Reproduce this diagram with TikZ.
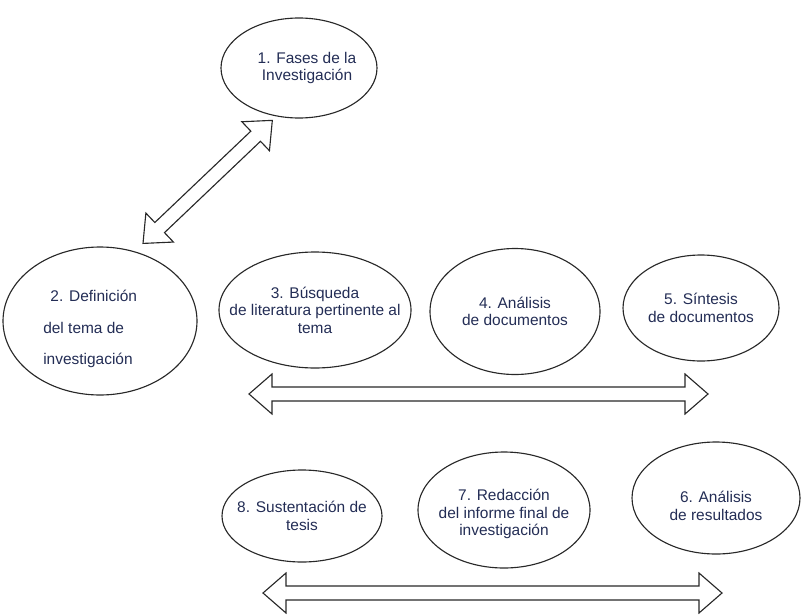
\documentclass[tikz,border=0pt]{standalone}
\usepackage{fontspec}
\setmainfont{Liberation Sans}
\definecolor{Navy}{RGB}{35, 45, 85}
\definecolor{Ink}{RGB}{40, 40, 40}
\usetikzlibrary{shapes.geometric, calc}

% flecha doble hueca entre dos puntos
\newcommand{\hollowarrow}[2]{%
  \coordinate (#1-b) at ($(#1)!0.575cm!(#2)$);
  \coordinate (#2-b) at ($(#2)!0.575cm!(#1)$);
  \draw[arrowline] (#1)
    -- ($(#1-b)!0.5cm!90:(#2)$) -- ($(#1-b)!0.175cm!90:(#2)$)
    -- ($(#2-b)!0.175cm!-90:(#1)$) -- ($(#2-b)!0.5cm!-90:(#1)$)
    -- (#2)
    -- ($(#2-b)!0.5cm!90:(#1)$) -- ($(#2-b)!0.175cm!90:(#1)$)
    -- ($(#1-b)!0.175cm!-90:(#2)$) -- ($(#1-b)!0.5cm!-90:(#2)$)
    -- cycle;}

\begin{document}
\begin{tikzpicture}[x=0.25cm, y=0.25cm,
    phase/.style={ellipse, draw=Ink, line width=0.8pt, inner sep=0pt},
    phasetxt/.style={font=\fontsize{11}{12.5}\selectfont, text=Navy, align=center},
    arrowline/.style={draw=Ink, line width=0.8pt, line join=miter}
]
\useasboundingbox (0,0) rectangle (80.3,61.5);
% Fases
\node[phase, minimum width=3.9cm, minimum height=2.5cm,
    label={[phasetxt, xshift=0.2cm]center:{1. Fases de la\\Investigación}}] (fases) at (29.9,54.7) {};
\node[phase, minimum width=4.85cm, minimum height=3.7cm,
    label={[phasetxt, align=left, yshift=-0.2cm]center:{\hspace*{0.18cm}2. Definición\\[10pt]del tema de\\[10pt]investigación\hspace*{0.6cm}}}] (def) at (10.0,29.4) {};
\node[phase, minimum width=4.8cm, minimum height=2.9cm,
    label={[phasetxt]center:{3. Búsqueda\\de literatura pertinente al\\tema}}] (busq) at (31.5,30.5) {};
\node[phase, minimum width=4.25cm, minimum height=3.15cm,
    label={[phasetxt]center:{4. Análisis\\de documentos}}] (analdoc) at (51.5,30.35) {};
\node[phase, minimum width=3.9cm, minimum height=2.65cm,
    label={[phasetxt]center:{5. Síntesis\\de documentos}}] (sint) at (70.1,30.7) {};
\node[phase, minimum width=4.2cm, minimum height=2.8cm,
    label={[phasetxt, yshift=-0.2cm]center:{6. Análisis\\de resultados}}] (analres) at (71.6,11.7) {};
\node[phase, minimum width=4.3cm, minimum height=2.9cm,
    label={[phasetxt, yshift=-0.1cm]center:{7. Redacción\\del informe final de\\investigación}}] (redac) at (50.4,10.5) {};
\node[phase, minimum width=4.0cm, minimum height=2.3cm,
    label={[phasetxt]center:{8. Sustentación de\\tesis}}] (sust) at (30.2,9.9) {};

% Flechas
\coordinate (diagA) at ($(fases.center)!1.09!(fases.243)$);
\coordinate (diagB) at ($(def.center)!1.13!(def.61)$);
\hollowarrow{diagB}{diagA}
\coordinate (rowA) at (24.9,22.1);
\coordinate (rowB) at (70.8,22.1);
\hollowarrow{rowA}{rowB}
\coordinate (rowC) at (26.3,2.2);
\coordinate (rowD) at (72.2,2.2);
\hollowarrow{rowC}{rowD}
\end{tikzpicture}
\end{document}
